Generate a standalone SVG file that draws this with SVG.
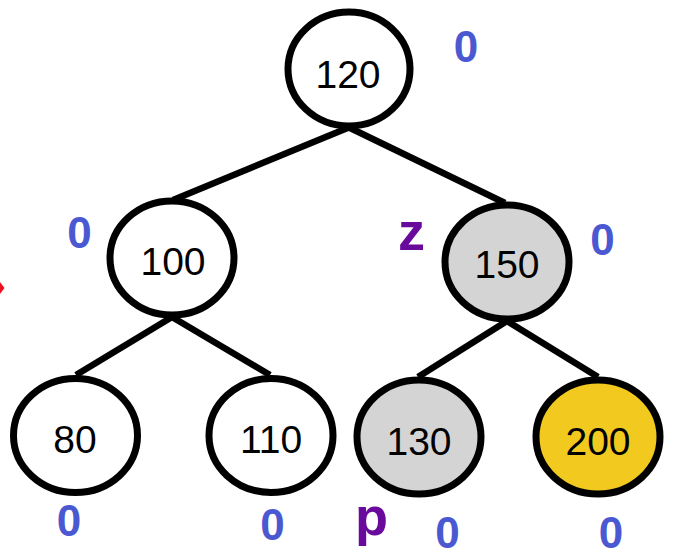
<svg xmlns="http://www.w3.org/2000/svg" width="674" height="556" viewBox="0 0 674 556">
  <style>
    .edge { stroke: #000; stroke-width: 6.5; fill: none; stroke-linecap: butt; }
    .node ellipse { stroke: #000; stroke-width: 7; }
    .plain { fill: #ffffff; }
    .grey { fill: #d4d4d4; }
    .gold { fill: #f2c91f; }
    .key { font-family: "Liberation Sans", Arial, sans-serif; font-size: 39px; fill: #000; text-anchor: middle; }
    .bal { font-family: "Liberation Sans", Arial, sans-serif; font-size: 44px; font-weight: bold; fill: #4a59d2; text-anchor: middle; }
    .ptr { font-family: "Liberation Sans", Arial, sans-serif; font-size: 54px; font-weight: bold; fill: #6a0a9c; text-anchor: middle; }
  </style>
  <rect width="674" height="556" fill="#ffffff"/>

  <!-- clipped marker at the left border -->
  <polygon points="0,282 4.5,288 0,294" fill="#ee1122"/>

  <g id="edges">
    <line class="edge" x1="350" y1="127" x2="173" y2="200"/>
    <line class="edge" x1="348" y1="127" x2="505" y2="203"/>
    <line class="edge" x1="172" y1="317" x2="76" y2="375"/>
    <line class="edge" x1="172" y1="317" x2="270" y2="375"/>
    <line class="edge" x1="507" y1="321" x2="418" y2="377"/>
    <line class="edge" x1="507" y1="321" x2="598" y2="377"/>
  </g>

  <g id="n120" class="node">
    <ellipse class="plain" cx="349" cy="69" rx="61" ry="57"/>
    <text class="key" x="348" y="88">120</text>
  </g>
  <g id="n100" class="node">
    <ellipse class="plain" cx="172" cy="258" rx="62" ry="57"/>
    <text class="key" x="173" y="275">100</text>
  </g>
  <g id="n150" class="node">
    <ellipse class="grey" cx="507" cy="262" rx="62" ry="57"/>
    <text class="key" x="507" y="278">150</text>
  </g>
  <g id="n80" class="node">
    <ellipse class="plain" cx="75.5" cy="435.5" rx="62" ry="57"/>
    <text class="key" x="75" y="453">80</text>
  </g>
  <g id="n110" class="node">
    <ellipse class="plain" cx="271" cy="435.5" rx="62" ry="57"/>
    <text class="key" x="271" y="453">110</text>
  </g>
  <g id="n130" class="node">
    <ellipse class="grey" cx="419" cy="437" rx="62" ry="57"/>
    <text class="key" x="419" y="455">130</text>
  </g>
  <g id="n200" class="node">
    <ellipse class="gold" cx="598" cy="437" rx="62" ry="57"/>
    <text class="key" x="598" y="455">200</text>
  </g>

  <!-- balance factors -->
  <g id="balances">
    <text class="bal" x="466" y="62">0</text>
    <text class="bal" x="79.5" y="248">0</text>
    <text class="bal" x="602.5" y="255">0</text>
    <text class="bal" x="69" y="536">0</text>
    <text class="bal" x="272.5" y="540">0</text>
    <text class="bal" x="447.5" y="548">0</text>
    <text class="bal" x="611" y="548">0</text>
  </g>

  <!-- pointer names -->
  <g id="pointers">
    <text class="ptr" x="411.5" y="250">z</text>
    <text class="ptr" x="371.5" y="535">p</text>
  </g>
</svg>
